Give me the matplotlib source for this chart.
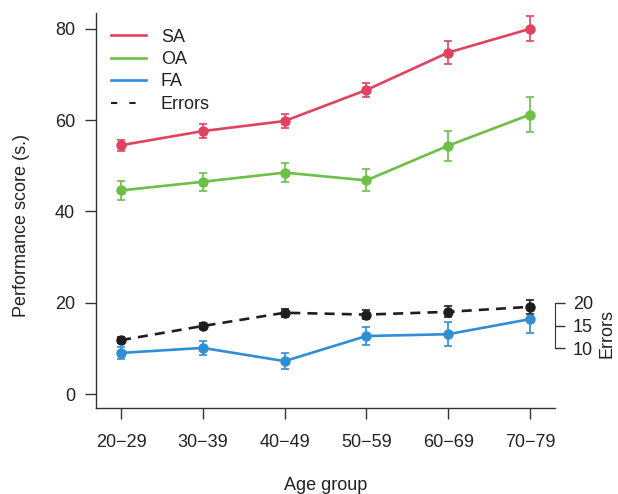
import matplotlib
matplotlib.use('Agg')
import matplotlib.pyplot as plt
from matplotlib.lines import Line2D

plt.rcParams['font.family'] = ['Liberation Sans', 'DejaVu Sans']
plt.rcParams['font.size'] = 13
plt.rcParams['text.color'] = '#222222'
plt.rcParams['axes.labelcolor'] = '#222222'
plt.rcParams['xtick.color'] = '#333333'
plt.rcParams['ytick.color'] = '#333333'
plt.rcParams['xtick.labelcolor'] = '#222222'
plt.rcParams['ytick.labelcolor'] = '#222222'

# data
age_groups = ['20\u221229', '30\u221239', '40\u221249', '50\u221259', '60\u221269', '70\u221279']
sa = [54.5, 57.6, 59.8, 66.6, 74.8, 80.0]
sa_err = [1.2, 1.6, 1.6, 1.6, 2.5, 2.7]
oa = [44.6, 46.5, 48.5, 46.8, 54.4, 61.2]
oa_err = [2.0, 2.0, 2.1, 2.4, 3.3, 3.9]
fa = [9.0, 10.1, 7.2, 12.7, 13.1, 16.4]
fa_err = [1.3, 1.6, 1.75, 2.0, 2.6, 3.0]
errors = [11.8, 14.9, 17.8, 17.4, 18.0, 19.1]
errors_err = [0.7, 0.7, 0.9, 1.0, 1.2, 1.5]

c_sa = '#E0435F'
c_oa = '#6CBF47'
c_fa = '#2F8ED4'
c_err = '#1E1E1E'

x = list(range(len(age_groups)))

fig = plt.figure(figsize=(6.18, 4.94), dpi=100)
ax = fig.add_axes([96 / 618, 1 - 407.7 / 494, (555 - 96) / 618, (407.7 - 13.3) / 494])

style = dict(marker='o', markersize=6.5, linewidth=1.9, capsize=3.2, elinewidth=1.2, capthick=1.2)
ax.errorbar(x, sa, yerr=sa_err, color=c_sa, label='SA', **style)
ax.errorbar(x, oa, yerr=oa_err, color=c_oa, label='OA', **style)
ax.errorbar(x, fa, yerr=fa_err, color=c_fa, label='FA', **style)
ax.errorbar(x, errors, yerr=errors_err, color=c_err, linestyle=(0, (3.8, 2.7)), label='Errors', **style)

ax.set_xlim(-0.306, 5.306)
ax.set_ylim(-3.0, 83.4)
ax.set_xticks(x)
ax.set_xticklabels(age_groups)
ax.set_yticks([0, 20, 40, 60, 80])

for s in ['top', 'right']:
    ax.spines[s].set_visible(False)
for s in ['left', 'bottom']:
    ax.spines[s].set_color('#333333')
    ax.spines[s].set_linewidth(1.0)
ax.tick_params(axis='both', length=8, width=1.0, direction='out')
ax.tick_params(axis='y', pad=7)
ax.tick_params(axis='x', pad=11)

# secondary axis for errors (same scale)
ax2 = ax.twinx()
ax2.set_ylim(ax.get_ylim())
ax2.set_yticks([10, 15, 20])
for s in ['top', 'left', 'bottom']:
    ax2.spines[s].set_visible(False)
ax2.spines['right'].set_bounds(10, 20)
ax2.spines['right'].set_color('#333333')
ax2.tick_params(axis='y', length=7, width=1.0, pad=6)

# legend
leg_handles = [
    Line2D([], [], color=c_sa, linewidth=1.9),
    Line2D([], [], color=c_oa, linewidth=1.9),
    Line2D([], [], color=c_fa, linewidth=1.9),
    Line2D([], [], color=c_err, linewidth=1.5, linestyle=(0, (3.0, 5.8))),
]
ax.legend(leg_handles, ['SA', 'OA', 'FA', 'Errors'], loc='upper left', frameon=False,
          handlelength=1.9, handletextpad=0.85, labelspacing=0.3,
          bbox_to_anchor=(0.0, 1.0), borderaxespad=0.45)

fig.text(22 / 618, 1 - 225 / 494, 'Performance score (s.)', rotation=90, ha='center', va='center')
fig.text(326 / 618, 1 - 485 / 494, 'Age group', ha='center', va='center')
fig.text(607 / 618, 1 - 333 / 494, 'Errors', rotation=90, ha='center', va='center')

plt.savefig('out.png', dpi=100)
